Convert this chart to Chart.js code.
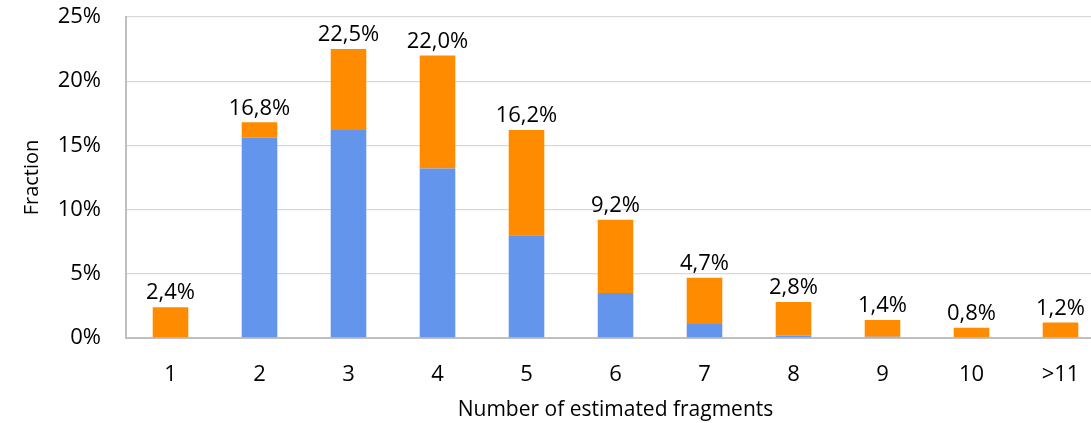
<!DOCTYPE html>
<html>
<head>
<meta charset="utf-8">
<script src="https://cdn.jsdelivr.net/npm/chart.js@4.4.1/dist/chart.umd.min.js"></script>
<style>
    html, body { margin: 0; padding: 0; background: #fff; overflow: hidden; }
    #wrap { width: 1110px; height: 423px; }
</style>
</head>
<body>
<div id="wrap"><canvas id="fragChart" width="1110" height="423"></canvas></div>
<script>
// values (percent)
const categories = ['1', '2', '3', '4', '5', '6', '7', '8', '9', '10', '>11'];
const blueValues = [0, 15.6, 16.2, 13.2, 8.0, 3.5, 1.1, 0.2, 0.1, 0, 0];
const orangeValues = [2.4, 1.2, 6.3, 8.8, 8.2, 5.7, 3.6, 2.6, 1.3, 0.8, 1.2];
const totalLabels = [2.4, 16.8, 22.5, 22.0, 16.2, 9.2, 4.7, 2.8, 1.4, 0.8, 1.2];
const yTicks = [0, 5, 10, 15, 20, 25];

const FONT = "'Open Sans', 'Noto Sans', sans-serif";

// draws the total above every stacked bar
const totalsPlugin = {
    id: 'totals',
    afterDatasetsDraw(chart) {
        const c = chart.ctx;
        const x = chart.scales.x;
        const y = chart.scales.y;
        c.save();
        c.font = '22px ' + FONT;
        c.fillStyle = '#000';
        c.textAlign = 'center';
        c.textBaseline = 'bottom';
        totalLabels.forEach((t, i) => {
            const px = x.getPixelForValue(i);
            const py = y.getPixelForValue(t);
            c.fillText(t.toFixed(1).replace('.', ',') + '%', px, py - 3);
        });
        c.restore();
    }
};

new Chart(document.getElementById('fragChart').getContext('2d'), {
    type: 'bar',
    data: {
        labels: categories,
        datasets: [{
            label: 'blue',
            data: blueValues,
            backgroundColor: '#6495ED',
            barPercentage: 0.4,
            categoryPercentage: 1.0,
        }, {
            label: 'orange',
            data: orangeValues,
            backgroundColor: '#FF8C00',
            barPercentage: 0.4,
            categoryPercentage: 1.0,
        }]
    },
    options: {
        responsive: false,
        animation: false,
        layout: { padding: { top: 17, right: 5, left: 0, bottom: 0 } },
        plugins: {
            legend: { display: false },
            tooltip: { enabled: false }
        },
        scales: {
            x: {
                stacked: true,
                grid: { display: false, drawTicks: false },
                border: { color: '#bfbfbf', width: 2 },
                ticks: { color: '#000', font: { family: FONT, size: 22 }, padding: 24 },
                title: {
                    display: true,
                    text: 'Number of estimated fragments',
                    color: '#000',
                    font: { family: FONT, size: 21 },
                    padding: { top: 0, bottom: 0 }
                },
                afterFit(scale) {
                    scale.height = 85;
                    scale.paddingLeft = 0;
                    scale.paddingRight = 0;
                }
            },
            y: {
                stacked: true,
                min: 0,
                max: 25,
                afterBuildTicks(scale) { scale.ticks = yTicks.map(v => ({ value: v })); },
                grid: { color: '#d9d9d9', lineWidth: 1.3, drawTicks: false },
                border: { color: '#bfbfbf', width: 2 },
                ticks: {
                    color: '#000',
                    font: { family: FONT, size: 22 },
                    padding: 25,
                    callback: v => v + '%'
                },
                title: {
                    display: true,
                    text: 'Fraction',
                    color: '#000',
                    font: { family: FONT, size: 20 },
                    padding: { top: 20, bottom: 0 }
                },
                afterFit(scale) {
                    scale.width = 126;
                    scale.paddingTop = 0;
                    scale.paddingBottom = 0;
                }
            }
        }
    },
    plugins: [totalsPlugin]
});
</script>
</body>
</html>
